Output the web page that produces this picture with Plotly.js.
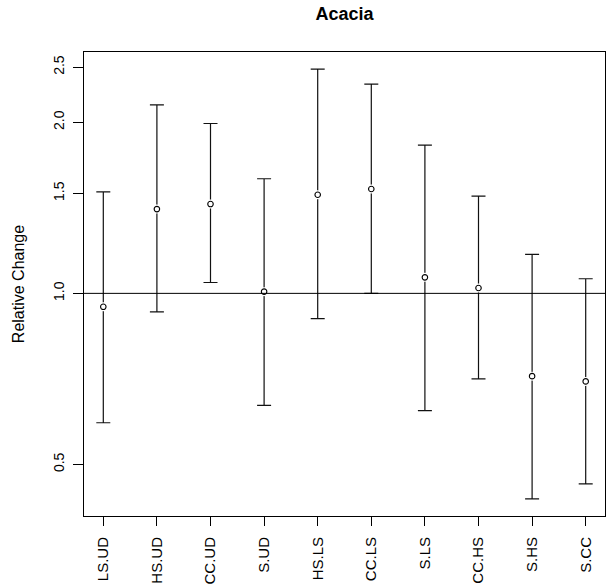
<!DOCTYPE html>
<html>
<head>
<meta charset="utf-8">
<script src="https://cdn.plot.ly/plotly-3.0.1.min.js"></script>
<style>html,body{margin:0;padding:0;background:#fff;}#chart{width:607px;height:585px;}</style>
</head>
<body>
<div id="chart"></div>
<script>
const categories = ['LS.UD','HS.UD','CC.UD','S.UD','HS.LS','CC.LS','S.LS','CC.HS','S.HS','S.CC'];
const estimate = [0.947, 1.407, 1.436, 1.007, 1.491, 1.526, 1.067, 1.022, 0.715, 0.700];
const upper    = [1.509, 2.146, 1.990, 1.591, 2.480, 2.334, 1.823, 1.483, 1.171, 1.061];
const lower    = [0.592, 0.928, 1.045, 0.635, 0.903, 1.000, 0.622, 0.707, 0.435, 0.462];
const yTicks = [0.5, 1.0, 1.5, 2.0, 2.5];
const yTickText = ['0.5', '1.0', '1.5', '2.0', '2.5'];

const xs = categories.map((_, i) => i + 1);
const errPlus = upper.map((u, i) => u - estimate[i]);
const errMinus = lower.map((l, i) => estimate[i] - l);

// R-style 4% range extension (log scale for y)
const lmin = Math.log10(Math.min(...lower)), lmax = Math.log10(Math.max(...upper));
const ext = (lmax - lmin) * 0.04;
const xext = (xs.length - 1) * 0.04;

const FONT = 'Liberation Sans, Arial, sans-serif';

const traces = [
  {
    x: xs, y: estimate, type: 'scatter', mode: 'markers',
    marker: {size: 1, color: 'rgba(0,0,0,0)'},
    error_y: {type: 'data', symmetric: false, array: errPlus, arrayminus: errMinus,
              color: '#111', thickness: 1.2, width: 7},
    hoverinfo: 'skip', showlegend: false
  },
  {
    x: xs, y: estimate, type: 'scatter', mode: 'markers',
    marker: {size: 9, color: '#ffffff', line: {width: 0}},
    hoverinfo: 'skip', showlegend: false
  },
  {
    x: xs, y: estimate, type: 'scatter', mode: 'markers',
    marker: {size: 5.5, color: '#ffffff', line: {width: 1.1, color: '#000'}},
    showlegend: false
  }
];

const layout = {
  width: 607, height: 585,
  margin: {l: 84, r: 2, t: 52, b: 69, pad: 0},
  paper_bgcolor: '#fff', plot_bgcolor: '#fff',
  font: {family: FONT, color: '#000'},
  title: {text: '<b>Acacia</b>', font: {family: FONT, size: 18, color: '#000'},
          x: (84 + 605) / 2 / 607, xanchor: 'center', xref: 'container',
          y: 1 - 14 / 585, yanchor: 'middle', yref: 'container'},
  xaxis: {
    range: [1 - xext, xs.length + xext],
    tickmode: 'array', tickvals: xs, ticktext: categories,
    tickangle: -90, ticks: 'outside', ticklen: 9, tickwidth: 1, tickcolor: '#000',
    tickfont: {family: FONT, size: 15, color: '#000'},
    showgrid: false, zeroline: false,
    showline: true, linecolor: '#000', linewidth: 1, mirror: true,
    ticklabelstandoff: 5
  },
  yaxis: {
    type: 'log',
    range: [lmin - ext, lmax + ext],
    tickmode: 'array', tickvals: yTicks, ticktext: yTickText,
    tickangle: -90, ticks: 'outside', ticklen: 10, tickwidth: 1, tickcolor: '#000',
    tickfont: {family: FONT, size: 14, color: '#000'},
    showgrid: false, zeroline: false,
    showline: true, linecolor: '#000', linewidth: 1, mirror: true,
    ticklabelstandoff: 3,
    title: {text: 'Relative Change', font: {family: FONT, size: 16, color: '#000'}, standoff: 22}
  },
  shapes: [
    {type: 'line', xref: 'paper', x0: 0, x1: 1, yref: 'y', y0: 1, y1: 1,
     line: {color: '#000', width: 1}}
  ]
};

Plotly.newPlot('chart', traces, layout, {displayModeBar: false, staticPlot: true});
</script>
</body>
</html>
